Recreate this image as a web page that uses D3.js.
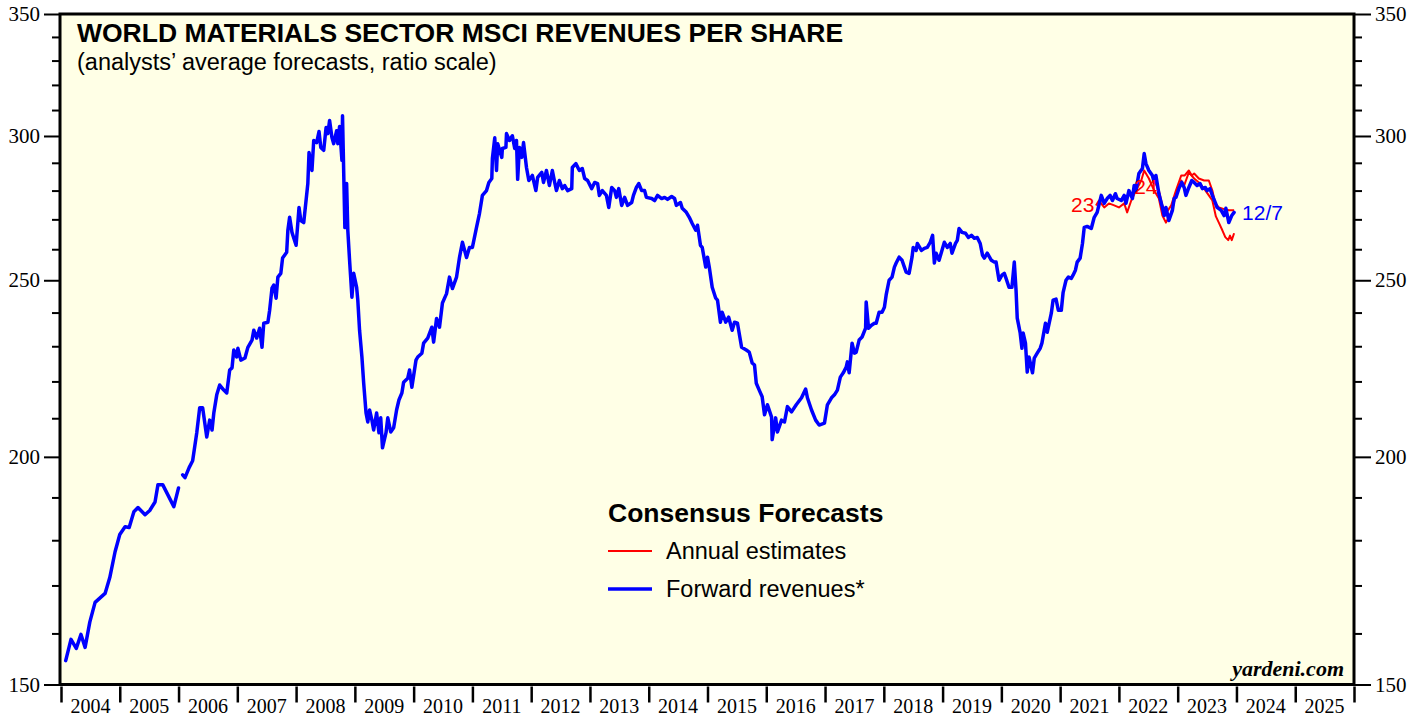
<!DOCTYPE html>
<html><head><meta charset="utf-8">
<script src="https://cdn.jsdelivr.net/npm/d3@7"></script>
<style>body{margin:0;background:#fff}svg{display:block}</style>
</head><body>
<svg id="c" width="1427" height="717"></svg>
<script>
// ---------- DATA ----------
const yearLabels = [2004,2005,2006,2007,2008,2009,2010,2011,2012,2013,2014,2015,2016,2017,2018,2019,2020,2021,2022,2023,2024,2025];
const yMajorTicks = [150,200,250,300,350];
const yMinorTicks = [160,170,180,190,210,220,230,240,260,270,280,290,310,320,330,340];

// Forward revenues (blue), [decimal year, value]; null marks a gap in the data
const forwardRevenues = [
[2004.08,154.6],[2004.17,158.8],[2004.26,157.0],[2004.34,159.8],[2004.41,157.2],[2004.49,162.3],[2004.58,166.4],[2004.75,168.3],
[2004.83,171.7],[2004.92,177.4],[2005.00,181.3],[2005.09,183.1],[2005.16,182.9],[2005.24,186.6],[2005.31,187.6],[2005.43,185.9],
[2005.51,186.9],[2005.60,188.9],[2005.65,193.1],[2005.73,193.1],[2005.92,187.8],[2006.00,192.3],[2006.03,null],
[2006.07,195.5],[2006.11,194.8],[2006.18,197.3],[2006.24,199.0],[2006.31,206.2],[2006.36,212.8],[2006.41,212.8],[2006.48,205.1],
[2006.53,209.5],[2006.57,206.9],[2006.60,211.4],[2006.65,216.3],[2006.70,219.0],[2006.77,217.6],[2006.82,216.8],[2006.87,223.2],
[2006.91,223.8],[2006.94,228.9],[2006.99,226.9],[2007.01,229.4],[2007.06,226.0],[2007.13,226.6],[2007.18,229.7],[2007.25,231.8],
[2007.28,234.7],[2007.33,232.4],[2007.38,235.3],[2007.42,229.7],[2007.45,236.8],[2007.52,237.1],[2007.55,240.7],[2007.59,247.5],
[2007.62,248.5],[2007.66,244.4],[2007.69,251.0],[2007.74,252.2],[2007.77,257.1],[2007.84,259.0],[2007.86,266.3],[2007.89,270.7],
[2007.93,265.6],[2008.00,261.3],[2008.05,274.1],[2008.08,269.6],[2008.13,268.9],[2008.20,282.5],[2008.22,293.8],[2008.27,287.2],
[2008.30,298.3],[2008.35,297.5],[2008.39,301.7],[2008.42,295.7],[2008.47,294.6],[2008.51,303.2],[2008.54,300.9],[2008.57,305.9],
[2008.61,299.4],[2008.64,297.1],[2008.69,302.0],[2008.71,297.1],[2008.74,303.6],[2008.78,290.9],[2008.79,307.8],[2008.83,267.2],
[2008.86,282.5],[2008.88,266.3],[2008.91,256.4],[2008.95,244.7],[2008.98,252.2],[2009.03,247.8],[2009.05,243.8],[2009.08,234.7],
[2009.12,226.9],[2009.15,219.5],[2009.19,211.4],[2009.22,209.0],[2009.25,212.2],[2009.29,209.5],[2009.32,206.9],[2009.37,211.4],
[2009.41,206.2],[2009.44,210.1],[2009.47,202.3],[2009.53,206.2],[2009.56,210.1],[2009.61,206.4],[2009.66,207.5],[2009.71,212.2],
[2009.75,214.9],[2009.80,216.8],[2009.83,219.8],[2009.90,220.9],[2009.93,223.2],[2009.97,218.4],[2010.04,226.0],[2010.07,226.9],
[2010.14,228.0],[2010.17,230.9],[2010.24,232.4],[2010.31,235.6],[2010.34,231.2],[2010.39,238.2],[2010.44,235.6],[2010.49,242.9],
[2010.56,245.8],[2010.61,251.0],[2010.66,247.4],[2010.73,251.0],[2010.78,257.3],[2010.83,262.3],[2010.90,257.3],[2010.95,260.6],
[2011.00,260.6],[2011.07,267.3],[2011.12,272.0],[2011.17,278.3],[2011.24,280.0],[2011.28,282.9],[2011.33,284.3],[2011.34,291.6],
[2011.38,299.3],[2011.41,287.2],[2011.43,297.1],[2011.50,292.0],[2011.51,295.3],[2011.57,295.7],[2011.58,300.9],[2011.63,298.3],
[2011.68,300.1],[2011.72,295.3],[2011.75,298.3],[2011.77,284.0],[2011.80,295.7],[2011.84,292.0],[2011.87,297.5],[2011.92,288.3],
[2011.96,283.6],[2012.02,285.4],[2012.08,280.0],[2012.11,284.7],[2012.18,286.5],[2012.21,282.9],[2012.26,287.2],[2012.31,281.8],
[2012.36,287.2],[2012.40,282.9],[2012.43,280.0],[2012.48,283.6],[2012.53,280.7],[2012.57,281.8],[2012.62,280.0],[2012.69,280.7],
[2012.70,288.3],[2012.76,289.7],[2012.82,287.2],[2012.87,287.9],[2012.91,284.3],[2012.96,283.6],[2013.03,280.7],[2013.08,282.9],
[2013.13,282.5],[2013.16,278.3],[2013.21,280.0],[2013.28,278.3],[2013.32,274.1],[2013.37,281.1],[2013.42,280.0],[2013.45,277.6],
[2013.49,280.7],[2013.54,274.8],[2013.59,277.6],[2013.64,274.8],[2013.71,275.8],[2013.74,278.3],[2013.79,281.1],[2013.83,282.5],
[2013.88,280.0],[2013.93,280.0],[2013.96,277.6],[2014.05,277.2],[2014.10,276.5],[2014.15,278.3],[2014.22,277.2],[2014.27,277.6],
[2014.32,276.9],[2014.39,277.9],[2014.44,277.2],[2014.47,274.8],[2014.54,275.8],[2014.57,273.8],[2014.64,272.4],[2014.69,270.7],
[2014.74,268.6],[2014.80,266.3],[2014.83,268.0],[2014.88,261.3],[2014.91,260.6],[2014.97,254.2],[2015.00,257.4],[2015.03,254.2],
[2015.08,247.8],[2015.14,244.4],[2015.17,243.8],[2015.22,237.1],[2015.25,240.1],[2015.31,237.1],[2015.36,238.6],[2015.42,234.7],
[2015.46,237.1],[2015.51,236.8],[2015.58,229.7],[2015.66,228.9],[2015.71,228.3],[2015.76,225.2],[2015.80,224.6],[2015.83,219.5],
[2015.88,217.6],[2015.93,215.8],[2015.97,210.9],[2016.02,213.6],[2016.09,210.3],[2016.10,204.4],[2016.16,210.1],[2016.19,206.4],
[2016.26,209.5],[2016.31,209.0],[2016.36,213.1],[2016.43,211.7],[2016.51,213.6],[2016.60,215.5],[2016.67,217.9],[2016.70,215.5],
[2016.77,212.2],[2016.84,209.5],[2016.90,208.2],[2016.99,208.7],[2017.04,213.6],[2017.11,215.5],[2017.16,216.3],[2017.21,217.6],
[2017.26,221.2],[2017.31,222.4],[2017.36,224.0],[2017.38,225.5],[2017.41,222.4],[2017.46,230.9],[2017.50,228.0],[2017.53,228.3],
[2017.58,231.8],[2017.63,232.7],[2017.69,235.3],[2017.70,243.2],[2017.74,235.3],[2017.79,236.2],[2017.84,236.8],[2017.87,236.8],
[2017.92,240.1],[2017.97,240.1],[2018.01,241.6],[2018.04,245.4],[2018.09,250.0],[2018.14,251.0],[2018.18,254.2],[2018.21,255.5],
[2018.26,257.4],[2018.31,256.4],[2018.35,254.2],[2018.38,252.6],[2018.43,252.2],[2018.48,257.4],[2018.50,260.6],[2018.55,259.6],
[2018.57,261.9],[2018.64,259.6],[2018.69,260.3],[2018.74,260.6],[2018.79,262.3],[2018.83,264.6],[2018.86,255.5],[2018.89,258.7],
[2018.94,256.4],[2019.00,260.3],[2019.03,262.3],[2019.08,260.6],[2019.13,261.9],[2019.16,258.7],[2019.22,261.9],[2019.25,262.9],
[2019.28,266.9],[2019.33,265.6],[2019.39,265.3],[2019.44,263.9],[2019.49,264.6],[2019.54,263.6],[2019.59,263.9],[2019.64,261.9],
[2019.68,258.0],[2019.71,257.1],[2019.76,258.7],[2019.83,256.4],[2019.88,255.8],[2019.91,255.8],[2019.96,250.0],[2020.01,251.6],
[2020.05,252.2],[2020.08,250.6],[2020.13,247.8],[2020.18,247.8],[2020.22,255.8],[2020.25,246.8],[2020.27,238.3],[2020.32,233.9],
[2020.35,229.4],[2020.37,233.9],[2020.41,230.9],[2020.44,222.6],[2020.47,226.9],[2020.53,222.4],[2020.56,226.6],[2020.61,228.0],
[2020.66,229.4],[2020.69,230.9],[2020.75,236.8],[2020.78,234.1],[2020.85,239.8],[2020.88,243.8],[2020.93,244.1],[2020.97,240.7],
[2021.02,240.7],[2021.05,246.1],[2021.10,250.0],[2021.14,251.0],[2021.19,250.6],[2021.22,251.6],[2021.26,253.2],[2021.29,255.8],
[2021.34,257.1],[2021.38,261.9],[2021.41,267.3],[2021.46,267.6],[2021.53,266.9],[2021.58,270.7],[2021.63,272.4],[2021.70,278.3],
[2021.75,275.5],[2021.80,277.2],[2021.85,278.3],[2021.89,276.5],[2021.94,278.9],[2021.97,277.2],[2022.04,276.5],[2022.09,278.3],
[2022.12,275.5],[2022.17,280.0],[2022.23,277.2],[2022.26,281.8],[2022.29,280.0],[2022.34,286.1],[2022.40,287.9],[2022.43,293.4],
[2022.46,289.7],[2022.51,287.2],[2022.57,285.4],[2022.60,282.9],[2022.63,285.4],[2022.68,278.9],[2022.74,274.1],[2022.77,271.3],
[2022.80,274.1],[2022.85,269.6],[2022.91,273.1],[2022.94,277.2],[2022.97,277.6],[2023.02,280.7],[2023.07,282.9],[2023.11,281.1],
[2023.14,278.3],[2023.19,281.1],[2023.24,283.6],[2023.28,282.9],[2023.33,281.8],[2023.38,282.5],[2023.42,280.7],[2023.47,281.1],
[2023.50,280.0],[2023.55,280.7],[2023.59,278.3],[2023.64,275.8],[2023.67,274.1],[2023.74,273.1],[2023.79,271.3],[2023.82,273.8],
[2023.87,268.9],[2023.92,271.3],[2023.96,272.4]
];

// Annual consensus estimates (red)
const estimates2023 = [
[2021.61,274.8],[2021.66,276.5],[2021.75,274.1],[2021.83,275.5],[2021.92,274.8],[2022.00,274.1],[2022.09,275.5],[2022.14,272.4],
[2022.21,276.5],[2022.29,280.0],[2022.38,283.6],[2022.43,287.2],[2022.51,284.3],[2022.60,280.0],[2022.68,277.2],[2022.74,271.3],
[2022.80,268.9],[2022.89,272.4],[2022.97,278.3],[2023.06,283.6],[2023.11,281.8],[2023.19,286.5],[2023.28,284.3],[2023.36,282.9],
[2023.45,280.7],[2023.53,278.3],[2023.59,276.5],[2023.65,271.0],[2023.70,268.9],[2023.76,266.3],[2023.81,264.0],[2023.86,263.0],
[2023.89,264.5],[2023.92,263.0],[2023.96,265.3]
];
const estimates2024 = [
[2022.60,283.6],[2022.68,280.0],[2022.74,274.8],[2022.80,272.0],[2022.89,274.8],[2022.97,280.0],[2023.06,285.4],[2023.12,285.4],
[2023.19,287.2],[2023.24,285.4],[2023.28,286.1],[2023.36,284.3],[2023.45,283.6],[2023.53,283.6],[2023.59,280.0],[2023.64,275.5],
[2023.70,274.1],[2023.79,273.5],[2023.87,273.1],[2023.96,273.1]
];
const estimateLabels = ["23","24"];
const lastDateLabel = "12/7";

// ---------- CHART ----------
const svg = d3.select("#c");
const L = 60, R = 1354, T = 14, B = 684.5;
const x = d3.scaleLinear().domain([2004, 2026]).range([61, 1354]);
const y = d3.scaleLog().domain([150, 350]).range([B, T]);

const serif = "'Liberation Serif','Times New Roman',serif";
const sans = "'Liberation Sans',Arial,Helvetica,sans-serif";

svg.append("rect").attr("x", L).attr("y", T).attr("width", R - L).attr("height", B - T)
  .attr("fill", "#ffffe6");

// Y axes
function yAxis(gen, xpos, size, vals, labels) {
  const g = svg.append("g").attr("transform", `translate(${xpos},0)`)
    .call(gen(y).tickValues(vals).tickSize(size).tickFormat(labels ? d3.format("d") : () => "").tickPadding(4));
  g.select(".domain").remove();
  g.selectAll(".tick line").attr("stroke", "#000").attr("stroke-width", 2);
  g.selectAll(".tick text").attr("font-family", serif).attr("font-size", 21).attr("fill", "#000");
  return g;
}
yAxis(d3.axisLeft, L, 16, yMajorTicks, true);
yAxis(d3.axisLeft, L, 8, yMinorTicks, false);
yAxis(d3.axisRight, R, 17, yMajorTicks, true);
yAxis(d3.axisRight, R, 8, yMinorTicks, false);

// X axis: ticks at year boundaries, labels centered inside each year
const xg = svg.append("g").attr("transform", `translate(0,${B + 2})`)
  .call(d3.axisBottom(x).tickValues(d3.range(2004, 2027)).tickSize(16).tickFormat(() => ""));
xg.select(".domain").remove();
xg.selectAll(".tick line").attr("stroke", "#000").attr("stroke-width", 2.5);
svg.append("g").selectAll("text").data(yearLabels).join("text")
  .attr("x", d => x(d + 0.5)).attr("y", 713).attr("text-anchor", "middle")
  .attr("font-family", serif).attr("font-size", 20).text(d => d);

// Lines
const line = d3.line().defined(d => d[1] != null).x(d => x(d[0])).y(d => y(d[1]));
const clip = svg.append("clipPath").attr("id", "pc").append("rect")
  .attr("x", L).attr("y", T).attr("width", R - L).attr("height", B - T);
const plot = svg.append("g").attr("clip-path", "url(#pc)");
[estimates2023, estimates2024].forEach(s => {
  plot.append("path").datum(s).attr("d", line).attr("fill", "none")
    .attr("stroke", "#ff0000").attr("stroke-width", 2).attr("stroke-linejoin", "round");
});
plot.append("path").datum(forwardRevenues).attr("d", line).attr("fill", "none")
  .attr("stroke", "#0000ff").attr("stroke-width", 3.5).attr("stroke-linejoin", "round").attr("stroke-linecap", "round");

// Estimate labels at series start
[[estimates2023, estimateLabels[0], -25, 7], [estimates2024, estimateLabels[1], -20, 14]].forEach(([s, lab, dx, dy]) => {
  svg.append("text").attr("x", x(s[0][0]) + dx).attr("y", y(s[0][1]) + dy)
    .attr("font-family", sans).attr("font-size", 21).attr("fill", "#ff0000").text(lab);
});
const last = forwardRevenues[forwardRevenues.length - 1];
svg.append("text").attr("x", x(last[0]) + 8).attr("y", y(last[1]) + 8)
  .attr("font-family", sans).attr("font-size", 21).attr("fill", "#0000ff").text(lastDateLabel);

// Border
svg.append("rect").attr("x", L).attr("y", T).attr("width", R - L).attr("height", B - T)
  .attr("fill", "none").attr("stroke", "#000").attr("stroke-width", 3);

// Titles
svg.append("text").attr("x", 77).attr("y", 42).attr("font-family", sans).attr("font-weight", "bold")
  .attr("font-size", 26.5).text("WORLD MATERIALS SECTOR MSCI REVENUES PER SHARE");
svg.append("text").attr("x", 77).attr("y", 70).attr("font-family", sans)
  .attr("font-size", 23.5).text("(analysts\u2019 average forecasts, ratio scale)");

// Legend
const lg = svg.append("g");
lg.append("text").attr("x", 608).attr("y", 522).attr("font-family", sans).attr("font-weight", "bold")
  .attr("font-size", 26.5).text("Consensus Forecasts");
const legendItems = [["Annual estimates", "#ff0000", 2, 551], ["Forward revenues*", "#0000ff", 3.5, 589]];
legendItems.forEach(([lab, col, w, yy]) => {
  lg.append("line").attr("x1", 608).attr("x2", 652).attr("y1", yy).attr("y2", yy)
    .attr("stroke", col).attr("stroke-width", w);
  lg.append("text").attr("x", 666).attr("y", yy + 8).attr("font-family", sans).attr("font-size", 23.5).text(lab);
});

// Source
svg.append("text").attr("x", 1344).attr("y", 676).attr("text-anchor", "end")
  .attr("font-family", serif).attr("font-weight", "bold").attr("font-style", "italic")
  .attr("font-size", 22).text("yardeni.com");
</script>
</body></html>
